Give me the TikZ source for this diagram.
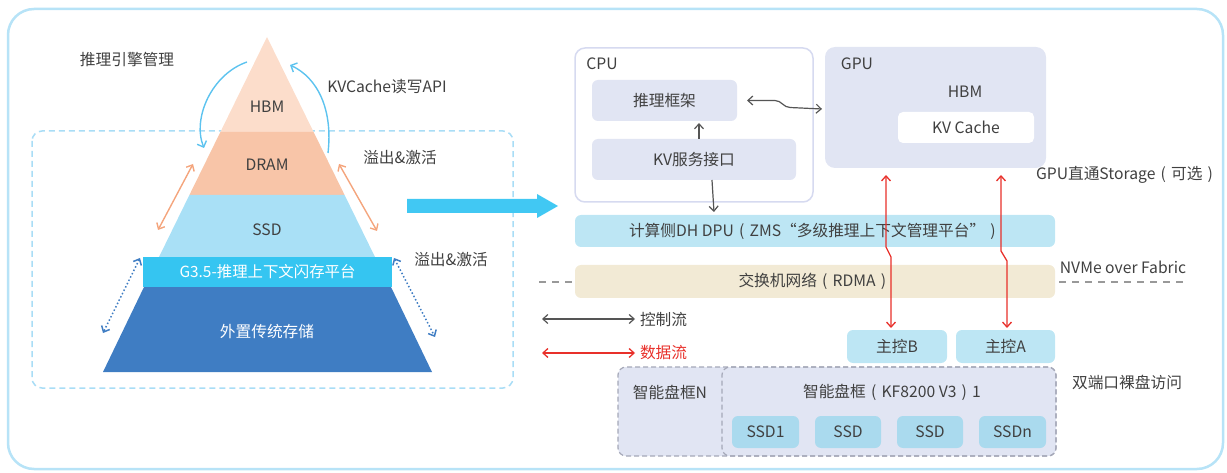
\documentclass[tikz,border=0pt]{standalone}
\usepackage{fontspec}
\setmainfont{Noto Sans CJK SC}
\usetikzlibrary{arrows.meta,calc}

% centred full-width brackets
\newcommand\zlp{\makebox[1em]{(}}
\newcommand\zrp{\makebox[1em]{)}}

\definecolor{txt}{HTML}{404040}
\definecolor{frameblue}{HTML}{B7E3F7}
\definecolor{dashblue}{HTML}{A9DDF6}
\definecolor{hbmfill}{HTML}{FCDDCB}
\definecolor{dramfill}{HTML}{F8C5A8}
\definecolor{ssdfill}{HTML}{A9E0F6}
\definecolor{gfill}{HTML}{35C5F1}
\definecolor{extfill}{HTML}{3F7DC3}
\definecolor{arcblue}{HTML}{5DC3EF}
\definecolor{orangearr}{HTML}{F4A57D}
\definecolor{bigarrow}{HTML}{41C8F3}
\definecolor{lav}{HTML}{E1E5F3}
\definecolor{lavline}{HTML}{D6DAF0}
\definecolor{barblue}{HTML}{BDE6F4}
\definecolor{barsand}{HTML}{F2EAD5}
\definecolor{diskblue}{HTML}{AADAEE}
\definecolor{encline}{HTML}{A5A8B8}
\definecolor{ctrl}{HTML}{555555}
\definecolor{datared}{HTML}{E8302A}

\begin{document}
\begin{tikzpicture}[x=1pt,y=-1pt,
  font=\fontsize{15.7}{18}\selectfont, text=txt,
  every node/.style={inner sep=0pt, outer sep=0pt},
  fillbox/.style={rounded corners=6pt, align=center},
  arcflow/.style={draw=arcblue, line width=1.4pt, -{Straight Barb[length=5pt,width=10pt]}},
  spill/.style={draw=orangearr, line width=1.4pt, {Straight Barb[length=5pt,width=9pt]}-{Straight Barb[length=5pt,width=9pt]}},
  dotflow/.style={draw=extfill, line width=1.5pt, dash pattern=on 1.5pt off 2.2pt,
    {Straight Barb[length=5pt,width=9pt]}-{Straight Barb[length=5pt,width=9pt]}},
  ctrlflow/.style={draw=ctrl, line width=1.2pt, {Straight Barb[length=5pt,width=9pt]}-{Straight Barb[length=5pt,width=9pt]}},
  ctrlone/.style={draw=ctrl, line width=1.2pt, -{Straight Barb[length=5pt,width=9pt]}},
  dataflow/.style={draw=datared, line width=1.3pt, {Straight Barb[length=5pt,width=9pt]}-{Straight Barb[length=5pt,width=9pt]}},
]
\useasboundingbox (0,0) rectangle (1227,473);

% outer frame and the dashed tier area
\draw[frameblue, line width=2.5pt, rounded corners=26pt] (8,9) rectangle (1223,469);
\draw[dashblue, line width=1.5pt, dash pattern=on 6pt off 4pt, rounded corners=10pt] (32,131) rectangle (513,388);

% ---------- storage pyramid ----------
\fill[hbmfill] (267,37) -- (313.6,132) -- (220.4,132) -- cycle;
\fill[dramfill] (220.4,132) -- (313.6,132) -- (344.6,195) -- (189.4,195) -- cycle;
\fill[ssdfill] (189.4,195) -- (344.6,195) -- (375,257) -- (159,257) -- cycle;
\fill[extfill] (144,287) -- (391,287) -- (432,372) -- (103,372) -- cycle;
\node[fill=gfill, minimum width=249pt, minimum height=30pt, text=white,
      font=\fontsize{15.4}{17}\selectfont] (g35) at (267.5,272) {G3.5-推理上下文闪存平台};

\node (hbm) at (267,107) {HBM};
\node (dram) at (267,165) {DRAM};
\node (ssd) at (267,230) {SSD};
\node[text=white] (ext) at (267,332) {外置传统存储};

\node (mgr) at (127,60) {推理引擎管理};
\node (api) at (387,87) {KVCache读写API};
\node (spillA) at (400,158) {溢出\&激活};
\node (spillB) at (451,260) {溢出\&激活};

% engine management / KVCache API arcs
\coordinate (m1) at (247,62);
\coordinate (m2) at (204,148);
\coordinate (k1) at (328,153);
\coordinate (k2) at (290,65);
\draw[arcflow] (m1) .. controls (212,74) and (192,118) .. (m2);
\draw[arcflow] (k1) .. controls (333,110) and (318,78) .. (k2);

% spill & activate between DRAM and SSD
\coordinate (o1) at (193,164);
\coordinate (o2) at (158,230);
\coordinate (o3) at (339,164);
\coordinate (o4) at (377,231);
\draw[spill] (o1) -- (o2);
\draw[spill] (o3) -- (o4);

% spill & activate towards external storage
\coordinate (d1) at (140,258);
\coordinate (d2) at (103,333);
\coordinate (d3) at (394,258);
\coordinate (d4) at (435,337);
\draw[dotflow] (d1) -- (d2);
\draw[dotflow] (d3) -- (d4);

% block arrow
\fill[bigarrow] (407,199) -- (537,199) -- (537,194) -- (558,206) -- (537,218) -- (537,213) -- (407,213) -- cycle;

% ---------- host side ----------
\node[draw=lavline, line width=1.5pt, fill=white, rounded corners=10pt,
      minimum width=238pt, minimum height=154pt] (cpu) at (694,125) {};
\node (cpulbl) at (602,64) {CPU};
\node[fill=lav, fillbox, minimum width=145pt, minimum height=41pt] (fw) at (664.5,100.5) {推理框架};
\node[fill=lav, fillbox, minimum width=204pt, minimum height=41pt] (kvs) at (694,159.5) {KV服务接口};

\node[fill=lav, rounded corners=10pt, minimum width=221pt, minimum height=121pt] (gpu) at (935.5,107.5) {};
\node (gpulbl) at (857,64) {GPU};
\node (hbmlbl) at (965,92) {HBM};
\node[fill=white, rounded corners=5pt, minimum width=136pt, minimum height=31pt] (kvc) at (966,127.5) {KV Cache};
\node[anchor=west] (gds) at (1036,175) {GPU直通Storage\zlp 可选\zrp};

\node[fill=barblue, fillbox, minimum width=480pt, minimum height=32pt] (dpu) at (815,231)
  {计算侧DH DPU\zlp ZMS“多级推理上下文管理平台”\zrp};

% fabric line behind the switch bar
\coordinate (f1) at (539,282);
\coordinate (f2) at (1185,282);
\draw[gray!80, line width=2pt, dash pattern=on 7pt off 6pt] (f1) -- (f2);
\node[fill=barsand, fillbox, minimum width=480pt, minimum height=33pt] (sw) at (815,281.5) {交换机网络\zlp RDMA\zrp};
\node (nvmeof) at (1123,267) {NVMe over Fabric};

\node[fill=barblue, fillbox, minimum width=100pt, minimum height=33pt] (mcb) at (897,346.5) {主控B};
\node[fill=barblue, fillbox, minimum width=99pt, minimum height=33pt] (mca) at (1005.5,346.5) {主控A};

% disk enclosures
\node[fill=lav, draw=encline, line width=1.2pt, dash pattern=on 5pt off 3pt, rounded corners=8pt,
      minimum width=438pt, minimum height=89pt] (encN) at (837,411.5) {};
\node[draw=encline, line width=1.2pt, dash pattern=on 5pt off 3pt, rounded corners=8pt,
      minimum width=334pt, minimum height=89pt] (enc1) at (889,411.5) {};
\node (encNlbl) at (670,392) {智能盘框N};
\node (enc1lbl) at (892,392) {智能盘框\zlp KF8200 V3\zrp 1};
\node[fill=diskblue, fillbox, minimum width=67pt, minimum height=32pt] (s1) at (765.5,432) {SSD1};
\node[fill=diskblue, fillbox, minimum width=66pt, minimum height=32pt] (s2) at (848,432) {SSD};
\node[fill=diskblue, fillbox, minimum width=66pt, minimum height=32pt] (s3) at (930,432) {SSD};
\node[fill=diskblue, fillbox, minimum width=67pt, minimum height=32pt] (sn) at (1012.5,432) {SSDn};
\node (dual) at (1127,382) {双端口裸盘访问};

% control flows
\draw[ctrlone] ([xshift=5pt]kvs.north) -- ([xshift=5pt,yshift=-2pt]kvs.north |- fw.south);
\draw[ctrlone] ([xshift=18pt]kvs.south) -- ([xshift=20pt,yshift=3pt]kvs.south |- dpu.north);
\draw[ctrlflow] ([xshift=10pt]fw.east) -- ++(28,0) to[out=0,in=180] ++(15,7)
  -- ([xshift=-3pt,yshift=-1.5pt]gpu.west);

% data flows: GPU direct to controllers
\draw[dataflow] ([xshift=-11pt,yshift=-7pt]gpu.south -| mcb.north) -- ++(0,72) -- ++(5,10)
  -- ([xshift=-6pt,yshift=2pt]mcb.north);
\draw[dataflow] ([xshift=-4.5pt,yshift=-7pt]gpu.south -| mca.north) -- ++(0,76) -- ++(6,10)
  -- ([xshift=1.5pt,yshift=2pt]mca.north);

% legend
\coordinate (lc1) at (542,319);
\coordinate (lc2) at (635,319);
\coordinate (ld1) at (542,353);
\coordinate (ld2) at (635,353);
\draw[ctrlflow] (lc1) -- (lc2);
\draw[dataflow] (ld1) -- (ld2);
\node[anchor=west] (lctrl) at (640,320) {控制流};
\node[anchor=west, text=datared] (ldata) at (640,353) {数据流};
\end{tikzpicture}
\end{document}
